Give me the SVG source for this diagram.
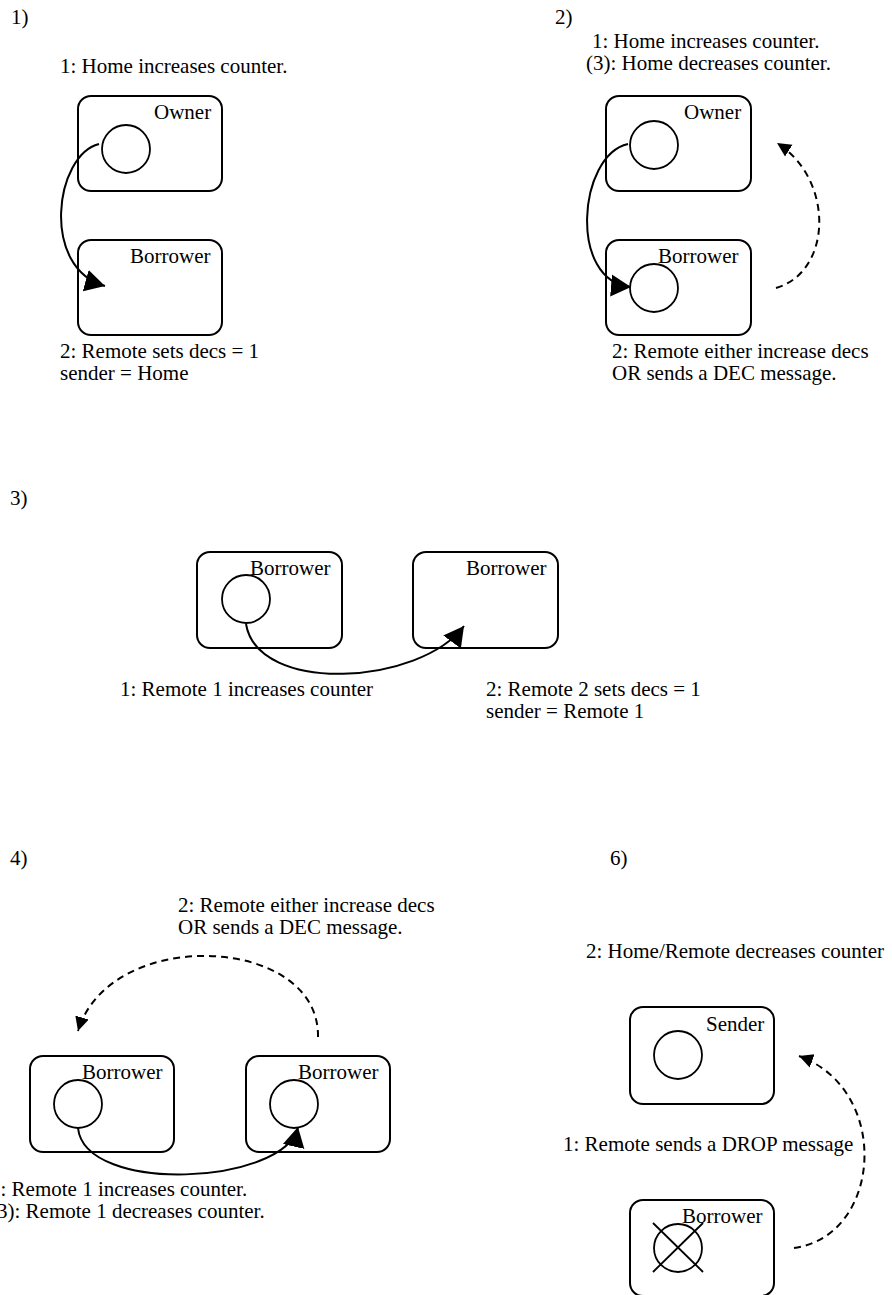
<svg xmlns="http://www.w3.org/2000/svg" width="892" height="1295" viewBox="0 0 892 1295">
<style>
text{font-family:"Liberation Serif","Times New Roman",serif;font-size:21px;fill:#000}
.box{fill:#fff;stroke:#000;stroke-width:2}
.tok{fill:none;stroke:#000;stroke-width:1.8}
.c{fill:none;stroke:#000;stroke-width:2}
.d{fill:none;stroke:#000;stroke-width:2;stroke-dasharray:7 5}
</style>
<defs>
<marker id="ah" markerUnits="userSpaceOnUse" markerWidth="24" markerHeight="24" viewBox="0 0 24 24" refX="20" refY="12" orient="auto">
<path d="M0,1 L20,12 L0,23 Z" fill="#000"/>
</marker>
<marker id="ahs" markerUnits="userSpaceOnUse" markerWidth="16" markerHeight="16" viewBox="0 0 16 16" refX="14" refY="8" orient="auto">
<path d="M0,1 L14,8 L0,15 Z" fill="#000"/>
</marker>
</defs>

<g id="labels">
<text x="11" y="24">1)</text>
<text x="555" y="24">2)</text>
<text x="10" y="505">3)</text>
<text x="10" y="865">4)</text>
<text x="610" y="865">6)</text>
<text x="60" y="73">1: Home increases counter.</text>
<text x="60" y="358">2: Remote sets decs = 1</text>
<text x="60" y="380">sender = Home</text>
<text x="592" y="48">1: Home increases counter.</text>
<text x="586" y="70">(3): Home decreases counter.</text>
<text x="612" y="358">2: Remote either increase decs</text>
<text x="612" y="380">OR sends a DEC message.</text>
<text x="120" y="696">1: Remote 1 increases counter</text>
<text x="486" y="696">2: Remote 2 sets decs = 1</text>
<text x="486" y="718">sender = Remote 1</text>
<text x="178" y="912">2: Remote either increase decs</text>
<text x="178" y="934">OR sends a DEC message.</text>
<text x="-10" y="1196">1: Remote 1 increases counter.</text>
<text x="-10" y="1218">(3): Remote 1 decreases counter.</text>
<text x="586" y="958">2: Home/Remote decreases counter</text>
<text x="563" y="1151">1: Remote sends a DROP message</text>
</g>

<g id="p1-owner">
<rect class="box" x="78" y="96" width="144" height="95" rx="13"/>
<text x="154" y="119">Owner</text>
<circle class="tok" cx="126" cy="149" r="24"/>
</g>
<g id="p1-borrower">
<rect class="box" x="78" y="240" width="144" height="95" rx="13"/>
<text x="130" y="263">Borrower</text>
</g>

<g id="p2-owner">
<rect class="box" x="606" y="96" width="145" height="95" rx="13"/>
<text x="684" y="119">Owner</text>
<circle class="tok" cx="654" cy="145" r="24"/>
</g>
<g id="p2-borrower">
<rect class="box" x="606" y="240" width="145" height="95" rx="13"/>
<text x="658" y="263">Borrower</text>
<circle class="tok" cx="654" cy="288" r="24"/>
</g>

<g id="p3-borrower1">
<rect class="box" x="197" y="552" width="145" height="96" rx="13"/>
<text x="250" y="575">Borrower</text>
<circle class="tok" cx="246" cy="599" r="24"/>
</g>
<g id="p3-borrower2">
<rect class="box" x="413" y="552" width="145" height="96" rx="13"/>
<text x="466" y="575">Borrower</text>
</g>

<g id="p4-borrower1">
<rect class="box" x="30" y="1056" width="144" height="96" rx="13"/>
<text x="82" y="1079">Borrower</text>
<circle class="tok" cx="78" cy="1104" r="24"/>
</g>
<g id="p4-borrower2">
<rect class="box" x="246" y="1056" width="144" height="96" rx="13"/>
<text x="298" y="1079">Borrower</text>
<circle class="tok" cx="294" cy="1104" r="24"/>
</g>

<g id="p6-sender">
<rect class="box" x="630" y="1007" width="144" height="97" rx="13"/>
<text x="706" y="1031">Sender</text>
<circle class="tok" cx="678" cy="1055" r="24"/>
</g>
<g id="p6-borrower">
<rect class="box" x="630" y="1200" width="144" height="96" rx="13"/>
<text x="682" y="1223">Borrower</text>
<circle class="tok" cx="678" cy="1248" r="24"/>
<line class="tok" x1="653" y1="1223" x2="703" y2="1272"/>
<line class="tok" x1="703" y1="1223" x2="653" y2="1272"/>
</g>

<g id="connectors">
<path class="c" d="M99,144 C55,155 40,268 105,286" marker-end="url(#ah)"/>
<path class="c" d="M628,144 C578,155 568,282 631,287" marker-end="url(#ah)"/>
<path class="d" d="M776,288 C832,272 835,180 777,143" marker-end="url(#ahs)"/>
<path class="c" d="M246,624 C258,695 420,685 464,626" marker-end="url(#ah)"/>
<path class="d" d="M318,1037 C320,935 110,925 78,1031" marker-end="url(#ahs)"/>
<path class="c" d="M78,1128 C85,1195 285,1185 298,1127" marker-end="url(#ah)"/>
<path class="d" d="M794,1248 C882,1236 892,1090 799,1056" marker-end="url(#ahs)"/>
</g>
</svg>
